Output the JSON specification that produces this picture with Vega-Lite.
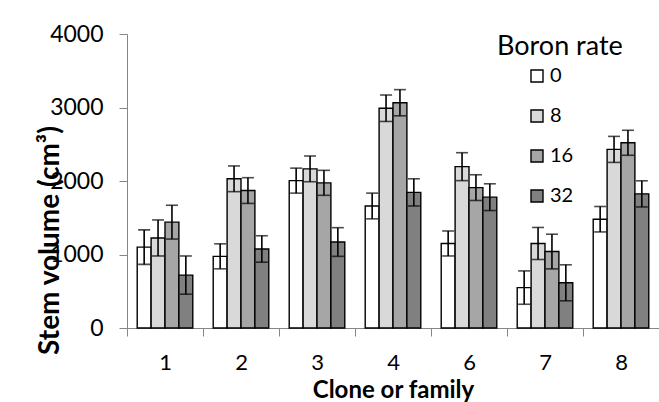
{
  "$schema": "https://vega.github.io/schema/vega-lite/v6.json",
  "width": 532,
  "height": 294,
  "autosize": {"type": "none"},
  "padding": {"left": 127, "top": 34, "right": 0, "bottom": 74},
  "background": "white",
  "config": {
    "font": "Lato",
    "view": {"stroke": null},
    "axis": {
      "domainColor": "#868686",
      "tickColor": "#868686",
      "labelColor": "black",
      "titleColor": "black",
      "grid": false,
      "tickSize": 8
    }
  },
  "data": {
    "values": [
      {"clone": "1", "rate": "0", "volume": 1100, "se": 235},
      {"clone": "1", "rate": "8", "volume": 1225, "se": 245},
      {"clone": "1", "rate": "16", "volume": 1440, "se": 230},
      {"clone": "1", "rate": "32", "volume": 720, "se": 260},
      {"clone": "2", "rate": "0", "volume": 975, "se": 170},
      {"clone": "2", "rate": "8", "volume": 2030, "se": 175},
      {"clone": "2", "rate": "16", "volume": 1870, "se": 175},
      {"clone": "2", "rate": "32", "volume": 1075, "se": 180},
      {"clone": "3", "rate": "0", "volume": 2005, "se": 170},
      {"clone": "3", "rate": "8", "volume": 2165, "se": 175},
      {"clone": "3", "rate": "16", "volume": 1975, "se": 170},
      {"clone": "3", "rate": "32", "volume": 1170, "se": 195},
      {"clone": "4", "rate": "0", "volume": 1660, "se": 175},
      {"clone": "4", "rate": "8", "volume": 2990, "se": 180},
      {"clone": "4", "rate": "16", "volume": 3065, "se": 178},
      {"clone": "4", "rate": "32", "volume": 1845, "se": 185},
      {"clone": "6", "rate": "0", "volume": 1150, "se": 170},
      {"clone": "6", "rate": "8", "volume": 2195, "se": 190},
      {"clone": "6", "rate": "16", "volume": 1910, "se": 175},
      {"clone": "6", "rate": "32", "volume": 1780, "se": 182},
      {"clone": "7", "rate": "0", "volume": 550, "se": 227},
      {"clone": "7", "rate": "8", "volume": 1150, "se": 218},
      {"clone": "7", "rate": "16", "volume": 1040, "se": 236},
      {"clone": "7", "rate": "32", "volume": 615, "se": 245},
      {"clone": "8", "rate": "0", "volume": 1480, "se": 173},
      {"clone": "8", "rate": "8", "volume": 2430, "se": 177},
      {"clone": "8", "rate": "16", "volume": 2520, "se": 170},
      {"clone": "8", "rate": "32", "volume": 1825, "se": 178}
    ]
  },
  "encoding": {
    "x": {
      "field": "clone",
      "type": "nominal",
      "sort": ["1", "2", "3", "4", "6", "7", "8"],
      "scale": {"paddingInner": 0, "paddingOuter": 0},
      "axis": {
        "title": "Clone or family",
        "labelAngle": 0,
        "labelFontSize": 22,
        "labelPadding": 16,
        "tickBand": "extent",
        "titleFontSize": 24,
        "titleFontWeight": "bold",
        "titlePadding": 5
      }
    },
    "xOffset": {
      "field": "rate",
      "type": "nominal",
      "sort": ["0", "8", "16", "32"],
      "scale": {"paddingInner": 0, "paddingOuter": 0.735}
    },
    "y": {
      "field": "volume",
      "type": "quantitative",
      "scale": {"domain": [0, 4000]},
      "axis": {
        "title": "Stem volume (cm³)",
        "values": [0, 1000, 2000, 3000, 4000],
        "format": "d",
        "labelFontSize": 23,
        "labelPadding": 16,
        "titleFontSize": 28,
        "titleFontWeight": "bold",
        "titleBaseline": "alphabetic",
        "titleX": -69,
        "titleY": 206
      }
    }
  },
  "layer": [
    {
      "mark": {"type": "bar", "stroke": "black", "strokeWidth": 1.4},
      "encoding": {
        "fill": {
          "field": "rate",
          "type": "nominal",
          "sort": ["0", "8", "16", "32"],
          "scale": {
            "domain": ["0", "8", "16", "32"],
            "range": ["#ffffff", "#d9d9d9", "#a6a6a6", "#808080"]
          },
          "legend": {
            "title": "Boron rate",
            "orient": "none",
            "legendX": 370,
            "legendY": 0,
            "padding": 0,
            "titleFontSize": 27,
            "titleFontWeight": "normal",
            "titlePadding": 5,
            "symbolType": "square",
            "symbolSize": 144,
            "symbolStrokeColor": "black",
            "symbolStrokeWidth": 1.4,
            "symbolOffset": 30,
            "labelFontSize": 20,
            "labelOffset": 3,
            "rowPadding": 20
          }
        }
      }
    },
    {
      "mark": {
        "type": "errorbar",
        "ticks": true,
        "size": 12,
        "thickness": 1.6,
        "color": "black"
      },
      "encoding": {
        "yError": {"field": "se"}
      }
    }
  ]
}
